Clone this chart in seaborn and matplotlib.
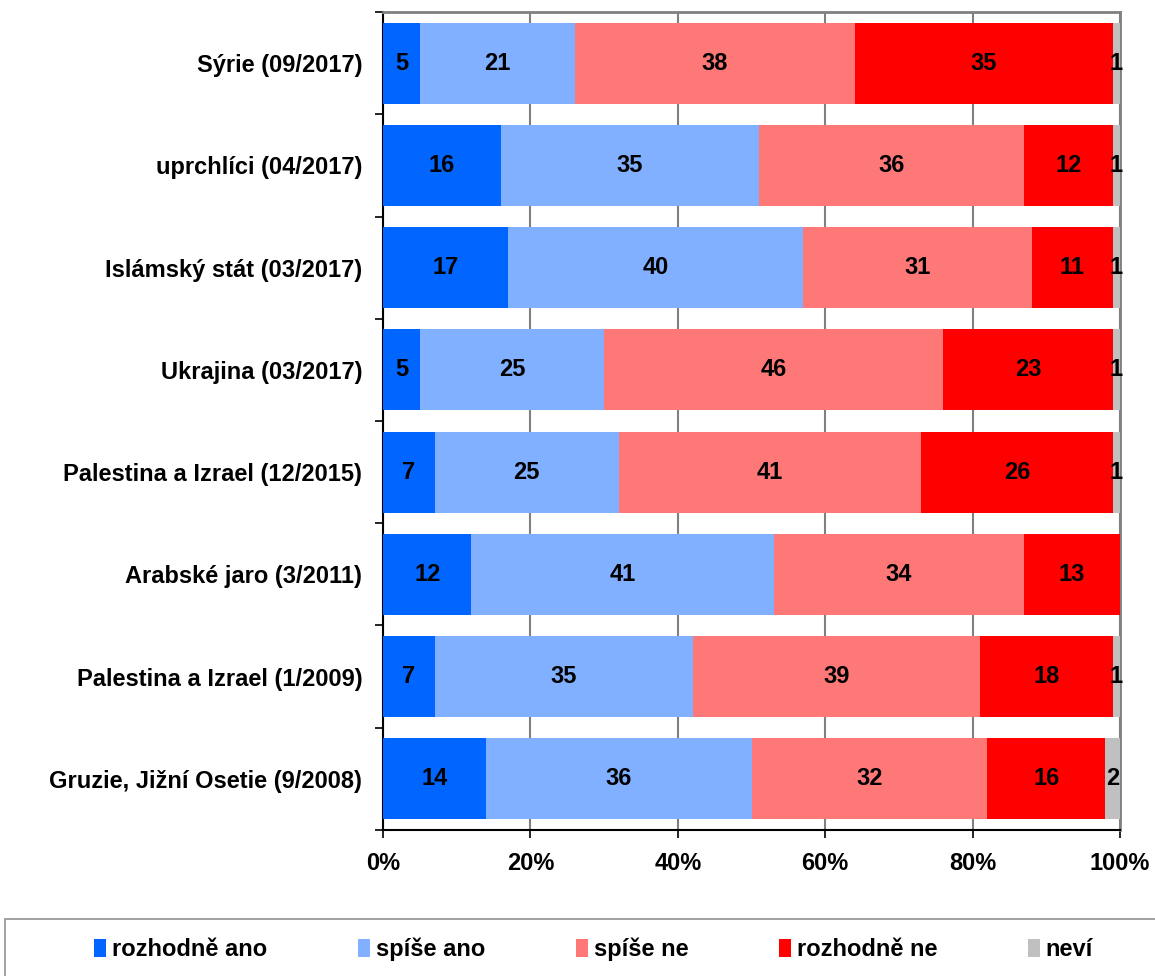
import matplotlib
matplotlib.use("Agg")
import matplotlib.pyplot as plt
from matplotlib.patches import Patch, Rectangle
import numpy as np
import pandas as pd
import seaborn as sns

kategorie = ['Sýrie (09/2017)', 'uprchlíci (04/2017)', 'Islámský stát (03/2017)',
             'Ukrajina (03/2017)', 'Palestina a Izrael (12/2015)', 'Arabské jaro (3/2011)',
             'Palestina a Izrael (1/2009)', 'Gruzie, Jižní Osetie (9/2008)']
odpovedi = ['rozhodně ano', 'spíše ano', 'spíše ne', 'rozhodně ne', 'neví']
rozhodne_ano = [5, 16, 17, 5, 7, 12, 7, 14]
spise_ano = [21, 35, 40, 25, 25, 41, 35, 36]
spise_ne = [38, 36, 31, 46, 41, 34, 39, 32]
rozhodne_ne = [35, 12, 11, 23, 26, 13, 18, 16]
nevi = [1, 1, 1, 1, 1, 0, 1, 2]
barvy = ['#0066FF', '#80B0FF', '#FF7878', '#FF0000', '#C0C0C0']
xticks = [0, 20, 40, 60, 80, 100]

sns.set_style("white")
plt.rcParams['font.family'] = ['Liberation Sans', 'DejaVu Sans']
plt.rcParams['font.weight'] = 'bold'
plt.rcParams['text.color'] = 'black'
plt.rcParams['xtick.color'] = 'black'
plt.rcParams['ytick.color'] = 'black'

serie = [rozhodne_ano, spise_ano, spise_ne, rozhodne_ne, nevi]
df = pd.DataFrame({'kat': kategorie})
for name, vals in zip(odpovedi, serie):
    df[name] = vals
cum = df[odpovedi].cumsum(axis=1)

fig = plt.figure(figsize=(11.55, 9.76), dpi=100)
ax = fig.add_axes([0.3316, 0.1496, 0.6381, 0.8381])

# stacked bars: draw cumulative totals from the last layer to the first
for i in range(len(odpovedi) - 1, -1, -1):
    tmp = pd.DataFrame({'kat': kategorie, 'val': cum[odpovedi[i]].values})
    sns.barplot(data=tmp, x='val', y='kat', orient='h', color=barvy[i],
                saturation=1, width=0.79, ax=ax, zorder=3, linewidth=0)

fs = 17
for j in range(len(kategorie)):
    for i, name in enumerate(odpovedi):
        v = df[name].iloc[j]
        if v == 0:
            continue
        ax.text(cum[name].iloc[j] - v / 2, j, str(v), ha='center', va='center',
                fontsize=fs, fontweight='bold', color='black', zorder=5)

ax.set_xlim(0, 100)
ax.set_ylim(len(kategorie) - 0.5, -0.5)
ax.set_xticks(xticks)
ax.set_xticklabels([f'{t}%' for t in xticks], fontsize=fs, fontweight='bold')
ax.set_yticks(range(len(kategorie)))
ax.set_yticklabels(kategorie, fontsize=fs, fontweight='bold')
ax.set_yticks(np.arange(-0.5, len(kategorie)), minor=True)
ax.tick_params(axis='y', which='major', left=True, length=0, pad=15)
ax.tick_params(axis='y', which='minor', left=True, length=6, width=1.2,
               color='black', direction='out')
ax.tick_params(axis='x', which='major', bottom=True, length=6, width=1.2,
               color='black', direction='out', pad=10)
ax.set_xlabel('')
ax.set_ylabel('')
ax.xaxis.grid(True, color='#808080', linewidth=1.5, zorder=0)
ax.set_axisbelow(True)
for s in ['top', 'right']:
    ax.spines[s].set_color('#808080')
    ax.spines[s].set_linewidth(2)
for s in ['left', 'bottom']:
    ax.spines[s].set_color('black')
    ax.spines[s].set_linewidth(1.5)

# legend box
fig.patches.append(Rectangle((0.004, -0.01), 1.0, 0.068, transform=fig.transFigure,
                             fill=False, edgecolor='#909090', linewidth=1.2))
handles = [Patch(facecolor=c, edgecolor='none') for c in barvy]
fig.legend(handles, odpovedi, loc='center', bbox_to_anchor=(0.514, 0.027), ncol=5,
           frameon=False, handlelength=0.5, handleheight=0.8,
           handletextpad=0.25, columnspacing=3.85,
           prop={'weight': 'bold', 'size': fs})

fig.savefig('out.png', dpi=100)
